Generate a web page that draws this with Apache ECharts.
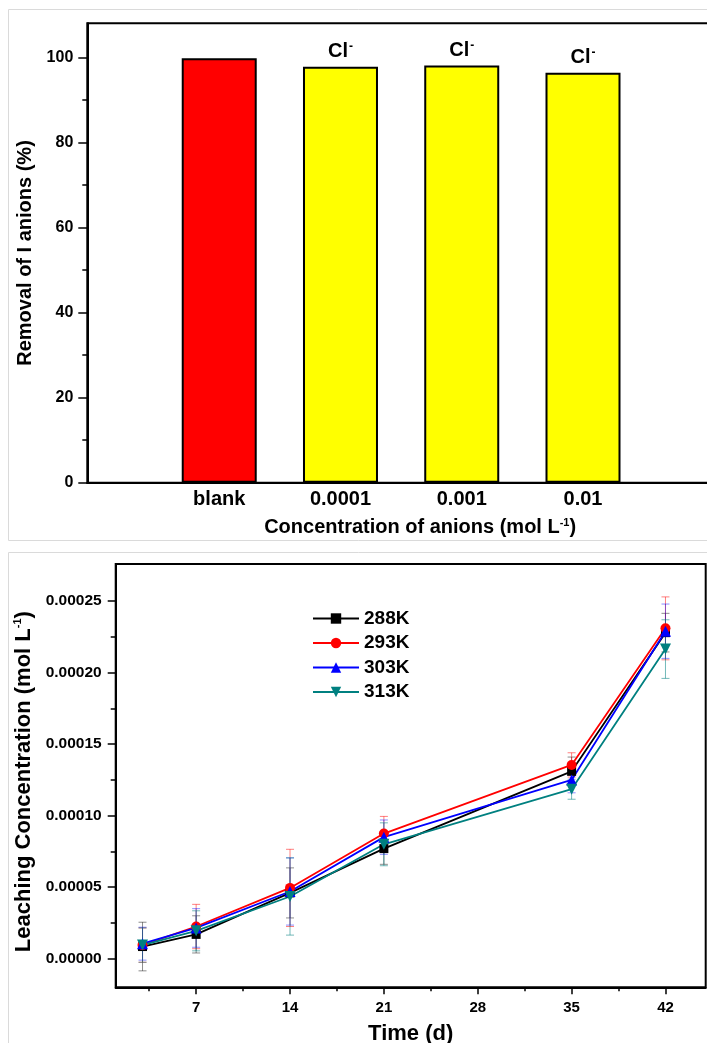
<!DOCTYPE html>
<html>
<head>
<meta charset="utf-8">
<script src="https://cdn.jsdelivr.net/npm/echarts@6/dist/echarts.min.js"></script>
<style>html,body{margin:0;padding:0;background:#fff}#c{width:707px;height:1043px}</style>
</head>
<body>
<div id="c"></div>
<script>
// ---- Top chart data ----
const barCats = ['blank', '0.0001', '0.001', '0.01'];
const barPos = [1, 2, 3, 4];
const removal = [99.8, 97.8, 98.1, 96.4];
const barColors = ['#FF0000', '#FFFF00', '#FFFF00', '#FFFF00'];
const barTags = ['', 'Cl', 'Cl', 'Cl'];
const removalTicks = [0, 20, 40, 60, 80, 100];
const removalMinor = [10, 30, 50, 70, 90];

// ---- Bottom chart data ----
const days = [3, 7, 14, 21, 35, 42];
const dayTicks = [7, 14, 21, 28, 35, 42];
const dayMinor = [3.5, 10.5, 17.5, 24.5, 31.5, 38.5];
const concTicks = [0, 0.00005, 0.0001, 0.00015, 0.0002, 0.00025];
const concMinor = [0.000025, 0.000075, 0.000125, 0.000175, 0.000225];
const tempNames = ['288K', '293K', '303K', '313K'];
const c288 = [8.5e-6, 1.7e-5, 4.6e-5, 7.7e-5, 1.31e-4, 2.28e-4];
const c293 = [9.5e-6, 2.25e-5, 4.95e-5, 8.75e-5, 1.355e-4, 2.31e-4];
const c303 = [1.05e-5, 2.15e-5, 4.7e-5, 8.5e-5, 1.25e-4, 2.29e-4];
const c313 = [9.5e-6, 1.95e-5, 4.35e-5, 8.0e-5, 1.185e-4, 2.165e-4];
const e288 = [1.7e-5, 1.3e-5, 1.75e-5, 1.1e-5, 1.0e-5, 1.35e-5];
const e293 = [1.2e-5, 1.55e-5, 2.7e-5, 1.2e-5, 0.85e-5, 2.2e-5];
const e303 = [1.15e-5, 1.35e-5, 2.35e-5, 1.2e-5, 0.9e-5, 1.9e-5];
const e313 = [1.2e-5, 1.4e-5, 2.7e-5, 1.5e-5, 0.7e-5, 2.05e-5];

const FF = '"Liberation Sans", Arial, sans-serif';
const lineColors = ['#000000', '#FF0000', '#0000FF', '#008080'];
const errColors = ['rgba(0,0,0,0.45)', 'rgba(255,0,0,0.5)', 'rgba(0,0,255,0.45)', 'rgba(0,128,128,0.55)'];
const symbols = ['rect', 'circle', 'triangle', 'triangle'];
const symRot = [0, 0, 0, 180];
const symSizes = [9, 10, 11, 11];
const concs = [c288, c293, c303, c313];
const errs = [e288, e293, e303, e313];

const supRich = {
  sup: {fontSize: 11, fontWeight: 'bold', fontFamily: FF, color: '#000', verticalAlign: 'top', lineHeight: 10}
};

const chart = echarts.init(document.getElementById('c'), null, {renderer: 'canvas'});

const series = [];
series.push({
  type: 'bar', xAxisIndex: 0, yAxisIndex: 0, barWidth: 75,
  itemStyle: {borderColor: '#000', borderWidth: 2},
  data: removal.map((v, i) => ({
    value: [barPos[i], v],
    itemStyle: {color: barColors[i]},
    label: {show: !!barTags[i]}
  })),
  label: {
    position: 'top', distance: 4,
    formatter: p => '{a|' + barTags[p.dataIndex] + '}{b|-}',
    rich: {
      a: {fontSize: 20, fontWeight: 'bold', fontFamily: FF, color: '#000', lineHeight: 22},
      b: {fontSize: 12, fontWeight: 'bold', fontFamily: FF, color: '#000', verticalAlign: 'top', lineHeight: 8, padding: [0, 0, 0, 1]}
    }
  }
});

for (let k = 0; k < 4; k++) {
  const col = errColors[k];
  series.push({
    type: 'custom', name: tempNames[k] + ' err', xAxisIndex: 1, yAxisIndex: 2,
    z: 1,
    data: days.map((d, i) => [d, concs[k][i], errs[k][i]]),
    encode: {x: 0, y: 1},
    renderItem: function (params, api) {
      const x = api.value(0), y = api.value(1), e = api.value(2);
      const t = api.coord([x, y + e]);
      const b = api.coord([x, y - e]);
      const hw = 4;
      const st = {stroke: col, lineWidth: 1};
      return {type: 'group', children: [
        {type: 'line', shape: {x1: t[0], y1: t[1], x2: b[0], y2: b[1]}, style: st},
        {type: 'line', shape: {x1: t[0] - hw, y1: t[1], x2: t[0] + hw, y2: t[1]}, style: st},
        {type: 'line', shape: {x1: b[0] - hw, y1: b[1], x2: b[0] + hw, y2: b[1]}, style: st}
      ]};
    }
  });
}
for (let k = 0; k < 4; k++) {
  series.push({
    type: 'line', name: tempNames[k], xAxisIndex: 1, yAxisIndex: 2, z: 3,
    data: days.map((d, i) => [d, concs[k][i]]),
    symbol: symbols[k], symbolSize: symSizes[k], symbolRotate: symRot[k],
    lineStyle: {color: lineColors[k], width: 1.8},
    itemStyle: {color: lineColors[k]},
    animation: false
  });
}

const axisLineStyle = {show: true, onZero: false, lineStyle: {color: '#000', width: 2}};
const hiddenLine = {show: false, onZero: false};
const option = {
  animation: false,
  backgroundColor: '#fff',
  textStyle: {fontFamily: FF},
  graphic: [
    {type: 'rect', silent: true, z: -10, shape: {x: 8.5, y: 9.5, width: 740, height: 531}, style: {fill: 'none', stroke: '#dadada', lineWidth: 1}},
    {type: 'rect', silent: true, z: -10, shape: {x: 8.5, y: 552.5, width: 740, height: 520}, style: {fill: 'none', stroke: '#dadada', lineWidth: 1}}
  ],
  grid: [
    {left: 87.3, right: -30, top: 23.3, bottom: 560.3, show: true, borderColor: '#000', borderWidth: 2, backgroundColor: 'rgba(0,0,0,0)', containLabel: false, outerBoundsMode: 'none'},
    {left: 115.7, right: 1.3, top: 564, bottom: 55.7, show: true, borderColor: '#000', borderWidth: 2, backgroundColor: 'rgba(0,0,0,0)', containLabel: false, outerBoundsMode: 'none'}
  ],
  legend: {
    data: tempNames, orient: 'vertical', left: 307, top: 604,
    itemWidth: 46, itemHeight: 13, itemGap: 5.5,
    textStyle: {fontSize: 19, fontWeight: 'bold', color: '#000', fontFamily: FF, lineHeight: 19}
  },
  xAxis: [
    {
      gridIndex: 0, type: 'value', position: 'bottom', min: -0.088, max: 5.27,
      axisLine: axisLineStyle, axisTick: {show: false}, splitLine: {show: false},
      axisLabel: {customValues: barPos, formatter: v => barCats[barPos.indexOf(v)], fontSize: 20, fontWeight: 'bold', color: '#000', fontFamily: FF, margin: 7},
      name: 'Concentration of anions (mol L{sup|-1})', nameLocation: 'middle', nameGap: 35,
      nameTextStyle: {fontSize: 20, fontWeight: 'bold', color: '#000', fontFamily: FF, rich: supRich, padding: [0, 0, 0, 16]}
    },
    {
      gridIndex: 1, type: 'value', position: 'bottom', min: 1, max: 45,
      axisLine: axisLineStyle, splitLine: {show: false},
      axisTick: {customValues: dayTicks, length: 7, lineStyle: {color: '#000', width: 1.5}},
      axisLabel: {customValues: dayTicks, fontSize: 15, fontWeight: 'bold', color: '#000', fontFamily: FF, margin: 13},
      name: 'Time (d)', nameLocation: 'middle', nameGap: 36,
      nameTextStyle: {fontSize: 22, fontWeight: 'bold', color: '#000', fontFamily: FF}
    },
    {
      gridIndex: 1, type: 'value', position: 'bottom', min: 1, max: 45,
      axisLine: hiddenLine, splitLine: {show: false}, axisLabel: {show: false},
      axisTick: {customValues: dayMinor, length: 4, lineStyle: {color: '#000', width: 1.5}}
    }
  ],
  yAxis: [
    {
      gridIndex: 0, type: 'value', position: 'left', min: 0, max: 108,
      axisLine: axisLineStyle, splitLine: {show: false},
      axisTick: {customValues: removalTicks, length: 9, lineStyle: {color: '#000', width: 1.5}},
      axisLabel: {customValues: removalTicks, fontSize: 16, fontWeight: 'bold', color: '#000', fontFamily: FF, margin: 14},
      name: 'Removal of I anions (%)', nameLocation: 'middle', nameGap: 51,
      nameTextStyle: {fontSize: 20, fontWeight: 'bold', color: '#000', fontFamily: FF}
    },
    {
      gridIndex: 0, type: 'value', position: 'left', min: 0, max: 108,
      axisLine: hiddenLine, splitLine: {show: false}, axisLabel: {show: false},
      axisTick: {customValues: removalMinor, length: 5, lineStyle: {color: '#000', width: 1.5}}
    },
    {
      gridIndex: 1, type: 'value', position: 'left', min: -0.00002, max: 0.000276,
      axisLine: axisLineStyle, splitLine: {show: false},
      axisTick: {customValues: concTicks, length: 8, lineStyle: {color: '#000', width: 1.5}},
      axisLabel: {customValues: concTicks, formatter: v => v.toFixed(5), fontSize: 15.5, fontWeight: 'bold', color: '#000', fontFamily: FF, margin: 14},
      name: 'Leaching Concentration (mol L{sup|-1})', nameLocation: 'middle', nameGap: 80,
      nameTextStyle: {fontSize: 22, fontWeight: 'bold', color: '#000', fontFamily: FF, rich: supRich, padding: [0, 12, 0, 0]}
    },
    {
      gridIndex: 1, type: 'value', position: 'left', min: -0.00002, max: 0.000276,
      axisLine: hiddenLine, splitLine: {show: false}, axisLabel: {show: false},
      axisTick: {customValues: concMinor, length: 5, lineStyle: {color: '#000', width: 1.5}}
    }
  ],
  series: series
};
chart.setOption(option);
</script>
</body>
</html>
